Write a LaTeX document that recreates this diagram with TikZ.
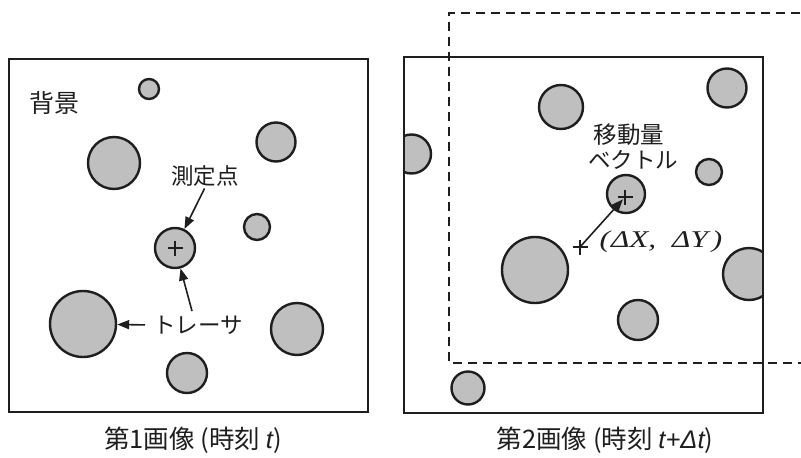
\documentclass[tikz,border=0pt]{standalone}
\usepackage{fontspec}
\setmainfont{Liberation Sans}
\newfontfamily\jp{Noto Sans CJK JP}
\newfontfamily\tmsw{Liberation Serif}[FakeStretch=1.3]
\usetikzlibrary{arrows.meta}
\definecolor{ink}{HTML}{1E1E1E}
\definecolor{blobfill}{HTML}{BFBFBF}
\tikzset{
  blob/.style={circle, draw=ink, line width=2.4pt, fill=blobfill, inner sep=0pt},
  frame/.style={draw=ink, line width=2pt},
  dashframe/.style={draw=ink, line width=2pt, dash pattern=on 9pt off 6pt},
  arr/.style={draw=ink, line width=1.6pt, -{Triangle[length=12pt,width=9pt]}},
  lbl/.style={text=ink, inner sep=1pt, font=\jp\fontsize{22.5}{25}\selectfont},
  captext/.style={text=ink, inner sep=1pt, font=\jp\fontsize{25.5}{28}\selectfont},
  pics/crossmark/.style={code={\draw[ink, line width=1.7pt] (-7.5,0) -- (7.5,0) (0,-7.5) -- (0,7.5);}}
}
\begin{document}
\begin{tikzpicture}[x=1pt, y=-1pt]
\useasboundingbox[fill=white] (0,0) rectangle (801,458);

% ---------- left image ----------
\draw[frame] (9,59) rectangle (368,412);
\node[blob, minimum size=20pt] (c1) at (149,89) {};
\node[blob, minimum size=52pt] (c2) at (114,163) {};
\node[blob, minimum size=39pt] (c3) at (276,142) {};
\node[blob, minimum size=26pt] (c4) at (257,227) {};
\node[blob, minimum size=40pt] (mc) at (175,248) {};
\node[blob, minimum size=66pt] (c5) at (83,324) {};
\node[blob, minimum size=52pt] (c6) at (297,329) {};
\node[blob, minimum size=40pt] (c7) at (187,373) {};
\pic at (mc) {crossmark};

\node[lbl, font=\jp\fontsize{25}{27}\selectfont] (haikei) at (55,103) {背景};
\node[lbl] (sokutei) at (205,176) {測定点};
\node[lbl] (tracer) at (198,325) {トレーサ};
\coordinate (trtop) at (192,311);

\draw[arr, shorten <=1pt] (sokutei.south) -- (mc);
\draw[arr] (trtop) -- (mc);
\draw[arr, shorten <=7pt] (tracer.west) -- (c5);

% ---------- right image ----------
\begin{scope}
  \clip (404,57) rectangle (763,413);
  \node[blob, minimum size=39pt] (p1) at (411.5,154) {};
  \node[blob, minimum size=52pt] (p2) at (749,274) {};
\end{scope}
\draw[frame] (404,57) rectangle (763,413);
\begin{scope}
  \clip (0,0) rectangle (801,458);
  \draw[dashframe] (830,13) -- (449,13) -- (449,363) -- (830,363);
\end{scope}

\node[blob, minimum size=44pt] (d1) at (561,107) {};
\node[blob, minimum size=39pt] (d2) at (727,88) {};
\node[blob, minimum size=26pt] (d3) at (709,172) {};
\node[blob, minimum size=38pt] (mc2) at (626,194) {};
\node[blob, minimum size=66pt] (d4) at (535,270) {};
\node[blob, minimum size=40pt] (d5) at (638,320) {};
\node[blob, minimum size=33pt] (d6) at (468,388) {};

\coordinate (pl1) at (625,197);
\coordinate (pl2) at (580,247);
\pic at (pl1) {crossmark};
\pic at (pl2) {crossmark};
\draw[arr, shorten >=3pt] (pl2) -- (pl1);

\node[lbl, font=\jp\fontsize{23.5}{26}\selectfont] (idou) at (629,135) {移動量};
\node[lbl] (vec) at (633,160) {ベクトル};
\node[text=ink, inner sep=0pt, font=\tmsw\itshape\fontsize{24}{28}\selectfont] (dxy) at (661,242)
  {(\kern1pt ΔX,\hspace{16pt}ΔY\kern4pt)};

% ---------- captions ----------
\node[captext] (cap1) at (193,440) {第1画像 (時刻 {\rmfamily\itshape t})};
\node[captext] (cap2) at (605,440) {第2画像 (時刻 {\rmfamily\itshape t+Δt})};
\end{tikzpicture}
\end{document}
